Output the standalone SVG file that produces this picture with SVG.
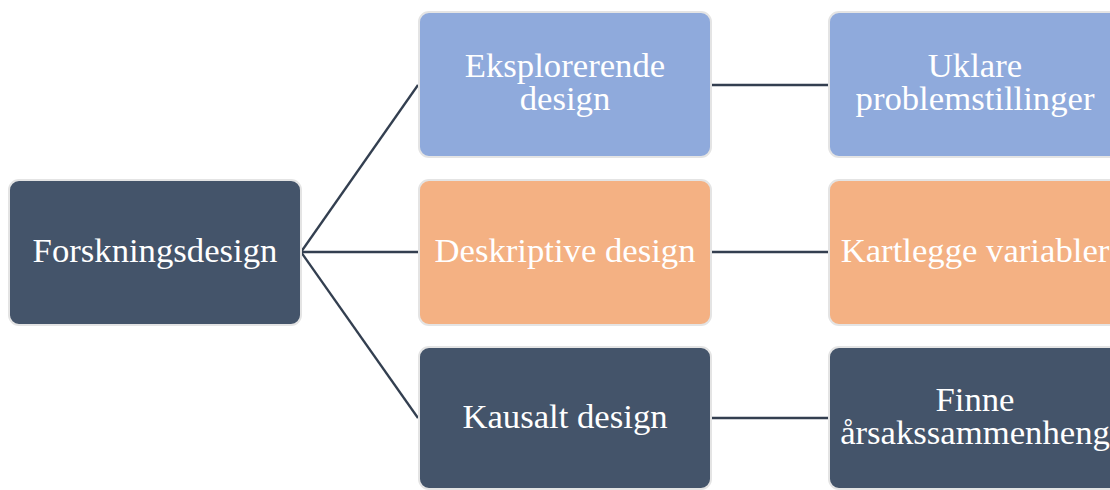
<svg xmlns="http://www.w3.org/2000/svg" width="1110" height="490" viewBox="0 0 1110 490">
<style>
.box{stroke:#e4e4e4;stroke-width:2}
.dark{fill:#44546a}
.blue{fill:#8faadc}
.orange{fill:#f4b183}
text{font-family:"Liberation Serif","Times New Roman",serif;font-size:34.7px;fill:#ffffff;text-anchor:middle}
.conn{stroke:#333f50;stroke-width:2.3;fill:none}
</style>
<rect width="1110" height="490" fill="#ffffff"/>
<g id="connectors">
<line class="conn" x1="301" y1="252" x2="418" y2="85"/>
<line class="conn" x1="301" y1="252" x2="418" y2="252"/>
<line class="conn" x1="301" y1="252" x2="418" y2="418"/>
<line class="conn" x1="711" y1="85" x2="828" y2="85"/>
<line class="conn" x1="711" y1="252" x2="828" y2="252"/>
<line class="conn" x1="711" y1="418" x2="828" y2="418"/>
</g>
<g id="root">
<rect class="box dark" x="9" y="180" width="292" height="145" rx="10"/>
<text x="155" y="262">Forskningsdesign</text>
</g>
<g id="eksplorerende">
<rect class="box blue" x="419" y="12" width="292" height="145" rx="10"/>
<text x="565" y="77">Eksplorerende</text>
<text x="565" y="110">design</text>
</g>
<g id="deskriptive">
<rect class="box orange" x="419" y="180" width="292" height="145" rx="10"/>
<text x="565" y="262">Deskriptive design</text>
</g>
<g id="kausalt">
<rect class="box dark" x="419" y="347" width="292" height="142" rx="10"/>
<text x="565" y="428">Kausalt design</text>
</g>
<g id="uklare">
<rect class="box blue" x="829" y="12" width="292" height="145" rx="10"/>
<text x="975" y="77">Uklare</text>
<text x="975" y="110">problemstillinger</text>
</g>
<g id="kartlegge">
<rect class="box orange" x="829" y="180" width="292" height="145" rx="10"/>
<text x="975" y="262">Kartlegge variabler</text>
</g>
<g id="finne">
<rect class="box dark" x="829" y="347" width="292" height="142" rx="10"/>
<text x="975" y="411">Finne</text>
<text x="975" y="444">årsakssammenheng</text>
</g>
</svg>
